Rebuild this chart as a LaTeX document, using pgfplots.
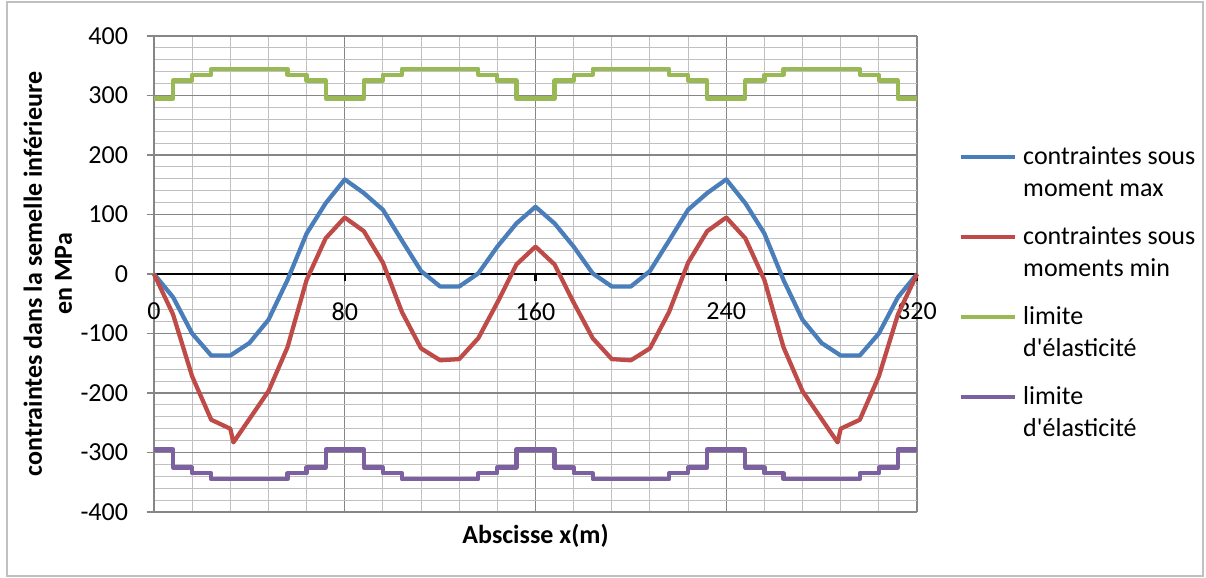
\documentclass[border=0pt]{standalone}
\usepackage{pgfplots}
\pgfplotsset{compat=1.18}
\usepackage{fontspec}
\setmainfont{Carlito}
\definecolor{cblue}{HTML}{4A7EBB}
\definecolor{cred}{HTML}{BE4B48}
\definecolor{cgreen}{HTML}{98B954}
\definecolor{cpurple}{HTML}{7D60A0}
\definecolor{gmaj}{HTML}{868686}
\definecolor{gmin}{HTML}{C0C0C0}
\newcommand{\chartfont}{\fontsize{19.5pt}{24pt}\selectfont}
\begin{document}
\begin{tikzpicture}
\chartfont
\useasboundingbox (-115.5pt,-49.5pt) rectangle (789pt,384pt);
\draw[gmin, line width=0.8pt] (-110.25pt,-48pt) rectangle (786.75pt,382.5pt);
\begin{axis}[
  at={(0,0)}, anchor=south west,
  scale only axis, width=572.25pt, height=357pt,
  xmin=0, xmax=320, ymin=-400, ymax=400,
  clip=false,
  axis x line=middle, axis y line=left,
  hide obscured x ticks=false, hide obscured y ticks=false,
  xtick={0,80,...,320}, ytick={-400,-300,...,400},
  minor x tick num=4, minor y tick num=4,
  grid=both,
  major grid style={gmaj, line width=0.8pt},
  minor grid style={gmin, line width=0.8pt},
  x axis line style={black, line width=2.2pt, -},
  y axis line style={gmaj, line width=0.8pt, -},
  tick align=outside,
  major tick length=5.5pt, minor tick length=0pt,
  xtick style={black, line width=1.6pt},
  ytick style={gmaj, line width=0.8pt},
  tick label style={font=\chartfont},
  /pgf/number format/assume math mode=true,
  yticklabel style={xshift=-7.3pt},
  xticklabel style={yshift=-9.5pt},
  xlabel={Abscisse x(m)},
  xlabel style={at={(axis description cs:0.5,-0.049)}, anchor=center, font=\chartfont\bfseries},
  ylabel={contraintes dans la semelle inférieure\\en MPa},
  ylabel style={at={(axis description cs:-0.139,0.5)}, anchor=center, align=center, font=\bfseries\fontsize{19.5pt}{22.5pt}\selectfont},
  every axis plot/.append style={line width=3.2pt, line join=round},
  legend image code/.code={\path (0pt,0pt); \draw[#1] (0pt,6pt) -- (40.5pt,6pt);},
  legend style={at={(axis description cs:1.055,0.767)}, anchor=north west, draw=none, fill=none,
    inner sep=0pt, outer sep=0pt, font=\chartfont,
    nodes={inner sep=0pt},
    cells={anchor=base west},
    row sep={60pt,between origins}, column sep=4.5pt},
]
\addplot[cblue] coordinates {
(0,0) (8,-39) (16,-100) (24,-137) (32,-137) (40,-116) (48,-77) (56,-10) (64,68) (72,119)
(80,159) (88,136) (96,108) (104,56) (112,5) (120,-21) (128,-21) (136,1) (144,46) (152,85)
(160,113) (168,85) (176,46) (184,1) (192,-21) (200,-21) (208,5) (216,56) (224,108) (232,136)
(240,159) (248,119) (256,68) (264,-10) (272,-77) (280,-116) (288,-137) (296,-137) (304,-100) (312,-39) (320,0)
};
\addlegendentry{\parbox[t]{150pt}{contraintes sous\\moment max}}
\addplot[cred] coordinates {
(0,0) (8,-68) (16,-172) (24,-245) (32,-260) (33.3,-283) (48,-197) (56,-123) (64,-10) (72,60)
(80,95) (88,72) (96,19) (104,-64) (112,-125) (120,-145) (128,-143) (136,-108) (144,-48) (152,16)
(160,46) (168,16) (176,-48) (184,-108) (192,-143) (200,-145) (208,-125) (216,-64) (224,19) (232,72)
(240,95) (248,60) (256,-10) (264,-123) (272,-197) (286.7,-283) (288,-260) (296,-245) (304,-172) (312,-68) (320,0)
};
\addlegendentry{\parbox[t]{150pt}{contraintes sous\\moments min}}
\addplot[cgreen, const plot] coordinates {
(0,295) (8,325) (16,335) (24,345) (56,335) (64,325) (72,295) (88,325) (96,335) (104,345)
(136,335) (144,325) (152,295) (168,325) (176,335) (184,345) (216,335) (224,325) (232,295)
(248,325) (256,335) (264,345) (296,335) (304,325) (312,295) (320,295)
};
\addlegendentry{\parbox[t]{150pt}{limite\\d\textquotesingle élasticité}}
\addplot[cpurple, const plot] coordinates {
(0,-295) (8,-325) (16,-335) (24,-345) (56,-335) (64,-325) (72,-295) (88,-325) (96,-335) (104,-345)
(136,-335) (144,-325) (152,-295) (168,-325) (176,-335) (184,-345) (216,-335) (224,-325) (232,-295)
(248,-325) (256,-335) (264,-345) (296,-335) (304,-325) (312,-295) (320,-295)
};
\addlegendentry{\parbox[t]{150pt}{limite\\d\textquotesingle élasticité}}
\end{axis}
\end{tikzpicture}
\end{document}
